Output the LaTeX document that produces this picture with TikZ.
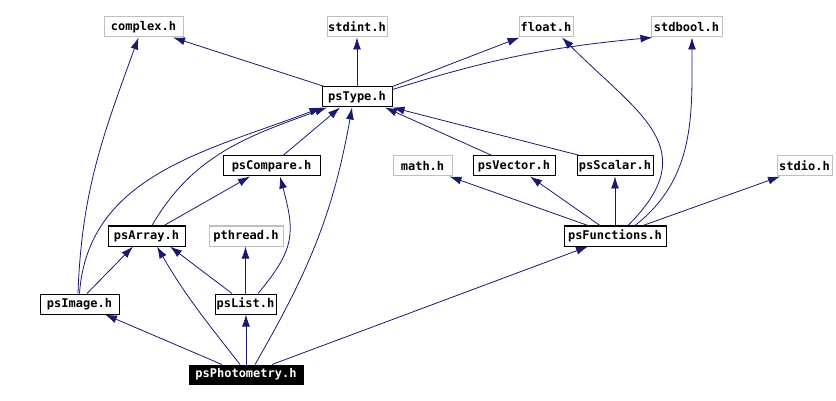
\documentclass[tikz,border=0pt]{standalone}
\usepackage{fontspec}
\setmonofont{DejaVu Sans Mono}
\usetikzlibrary{arrows.meta, positioning, calc}
\definecolor{edgeblue}{HTML}{191970}
\definecolor{extgray}{HTML}{BFBFBF}

\begin{document}
\begin{tikzpicture}[x=1pt, y=1pt, >={Latex[length=12pt,width=8pt]},
    every node/.style={font=\fontsize{12}{13}\selectfont\ttfamily\bfseries}]
    % Styles
    \tikzstyle{header} = [rectangle, draw=black, line width=1pt, fill=white,
                          minimum height=20pt, inner sep=0pt, text centered]
    \tikzstyle{extheader} = [header, draw=extgray]
    \tikzstyle{mainheader} = [header, fill=black, text=white, minimum height=19pt]
    \tikzstyle{dep} = [->, draw=edgeblue, line width=0.8pt]

    \useasboundingbox (0,0) rectangle (836,-401);

    % Nodes
    \node at (143.5,-27) [extheader, minimum width=79pt] (complex) {complex.h};
    \node at (357,-27) [extheader, minimum width=60pt] (stdint) {stdint.h};
    \node at (546,-27) [extheader, minimum width=54pt] (float) {float.h};
    \node at (686.5,-27) [extheader, minimum width=71pt] (stdbool) {stdbool.h};
    \node at (357,-97) [header, minimum width=70pt] (psType) {psType.h};
    \node at (271.5,-166) [header, minimum width=97pt] (psCompare) {psCompare.h};
    \node at (422.5,-166) [extheader, minimum width=59pt] (math) {math.h};
    \node at (514,-166) [header, minimum width=82pt] (psVector) {psVector.h};
    \node at (615,-166) [header, minimum width=76pt] (psScalar) {psScalar.h};
    \node at (804.5,-166) [extheader, minimum width=55pt] (stdio) {stdio.h};
    \node at (146.5,-236) [header, minimum width=77pt] (psArray) {psArray.h};
    \node at (246,-236) [extheader, minimum width=74pt] (pthread) {pthread.h};
    \node at (615,-236) [header, minimum width=102pt] (psFunctions) {psFunctions.h};
    \node at (79.5,-304) [header, minimum width=79pt] (psImage) {psImage.h};
    \node at (245.5,-304) [header, minimum width=61pt] (psList) {psList.h};
    \node at (246,-374.5) [mainheader, minimum width=114pt] (psPhotometry) {psPhotometry.h};

    % Connections
    \draw[dep] ([xshift=3pt]psType.north west) -- ([xshift=29.5pt]complex.south);
    \draw[dep] (psType.north) -- (stdint.south);
    \draw[dep] (psType.north east) -- ([xshift=1pt]float.south west);
    \draw[dep] ([yshift=-3pt]psType.north east) to[bend left=6] ([xshift=2pt]stdbool.south west);

    \draw[dep] ([xshift=11.5pt]psCompare.north) -- ([xshift=-17pt]psType.south);
    \draw[dep] ([xshift=5.5pt]psArray.north) to[out=60, in=200] ([xshift=-30pt]psType.south);
    \draw[dep] ([xshift=17.5pt]psArray.north) -- ([xshift=-21.5pt]psCompare.south);
    \draw[dep] (psImage.north) to[out=86, in=201] (psType.south west);
    \draw[dep] ([xshift=-1.5pt]psImage.north) to[out=88, in=250] ([xshift=-5pt]complex.south);
    \draw[dep] ([xshift=7.5pt]psImage.north) -- ([xshift=-13.5pt]psArray.south);
    \draw[dep] ([xshift=-13.5pt]psList.north) -- ([xshift=23.5pt]psArray.south);
    \draw[dep] (psList.north) -- (psList.north |- pthread.south);
    \draw[dep] ([xshift=12.5pt]psList.north) to[out=50, in=285, looseness=1.25] ([xshift=8.5pt]psCompare.south);

    \draw[dep] ([xshift=-24pt]psPhotometry.north) -- ([xshift=25.5pt]psImage.south);
    \draw[dep] ([xshift=-6pt]psPhotometry.north) to[out=128, in=300] ([xshift=10.5pt]psArray.south);
    \draw[dep] (psPhotometry.north) -- (psPhotometry.north |- psList.south);
    \draw[dep] ([xshift=9pt]psPhotometry.north) to[out=60, in=260] ([xshift=-5pt]psType.south);
    \draw[dep] ([xshift=26pt]psPhotometry.north) -- ([xshift=-27pt]psFunctions.south);

    \draw[dep] ([xshift=-22pt]psVector.north) -- ([xshift=28pt]psType.south);
    \draw[dep] ([xshift=-35pt]psScalar.north) -- (psType.south east);

    \draw[dep] ([xshift=-27pt]psFunctions.north) -- ([xshift=-3pt]math.south east);
    \draw[dep] ([xshift=-15pt]psFunctions.north) -- ([xshift=16pt]psVector.south);
    \draw[dep] (psFunctions.north) -- (psScalar.south);
    \draw[dep] ([xshift=13pt]psFunctions.north) to[out=45, in=315, looseness=1.4] ([xshift=16pt]float.south);
    \draw[dep] ([xshift=20pt]psFunctions.north) to[out=38, in=270] ([xshift=5.5pt]stdbool.south);
    \draw[dep] ([xshift=28pt]psFunctions.north) -- ([xshift=-24.5pt]stdio.south);
\end{tikzpicture}
\end{document}
